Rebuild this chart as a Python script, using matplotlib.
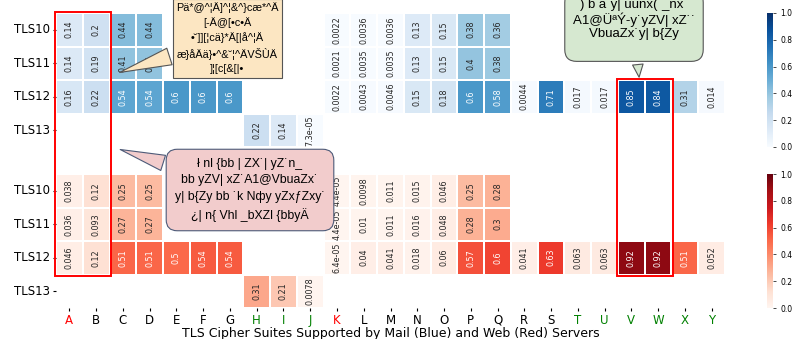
import numpy as np
import seaborn as sns
import matplotlib
matplotlib.use('Agg')
from matplotlib import pyplot as plt
from matplotlib.patches import Rectangle
from matplotlib.text import Annotation
from matplotlib import font_manager

nan = np.nan

suites = list('ABCDEFGHIJKLMNOPQRSTUVWXY')
versions = ['TLS10', 'TLS11', 'TLS12', 'TLS13']

# share of mail servers (blue)
mail_tls10 = [.14, .2, .44, .44, nan, nan, nan, nan, nan, nan, .0022, .0036, .0036, .13, .15, .38, .36,
              nan, nan, nan, nan, nan, nan, nan, nan]
mail_tls11 = [.14, .19, .41, .41, nan, nan, nan, nan, nan, nan, .0021, .0035, .0035, .13, .15, .4, .38,
              nan, nan, nan, nan, nan, nan, nan, nan]
mail_tls12 = [.16, .22, .54, .54, .6, .6, .6, nan, nan, nan, .0022, .0043, .0046, .15, .18, .6, .58,
              .0044, .71, .017, .017, .85, .84, .31, .014]
mail_tls13 = [nan, nan, nan, nan, nan, nan, nan, .22, .14, 7.3e-05, nan, nan, nan, nan, nan, nan, nan,
              nan, nan, nan, nan, nan, nan, nan, nan]

# share of web servers (red)
web_tls10 = [.038, .12, .25, .25, nan, nan, nan, nan, nan, nan, 4.4e-05, .0098, .011, .015, .046, .25, .28,
             nan, nan, nan, nan, nan, nan, nan, nan]
web_tls11 = [.036, .093, .27, .27, nan, nan, nan, nan, nan, nan, 4.4e-05, .01, .011, .016, .048, .28, .3,
             nan, nan, nan, nan, nan, nan, nan, nan]
web_tls12 = [.046, .12, .51, .51, .5, .54, .54, nan, nan, nan, 6.4e-05, .04, .041, .018, .06, .57, .6,
             .041, .63, .063, .063, .92, .92, .51, .052]
web_tls13 = [nan, nan, nan, nan, nan, nan, nan, .31, .21, .0078, nan, nan, nan, nan, nan, nan, nan,
             nan, nan, nan, nan, nan, nan, nan, nan]

red_labels = ['A', 'K']
green_labels = ['H', 'I', 'J', 'T', 'U', 'V', 'W', 'X', 'Y']

W, H = 799, 339


def px_box(x0, y0, x1, y1):
    # pixel box (y from top) -> figure fraction [left, bottom, width, height]
    return [x0 / W, (H - y1) / H, (x1 - x0) / W, (y1 - y0) / H]


def fig_xy(x, y):
    return (x / W, 1 - y / H)


fig = plt.figure(figsize=(7.99, 3.39), dpi=100)
ax_top = fig.add_axes(px_box(56, 13, 725, 147))
ax_bot = fig.add_axes(px_box(56, 174, 725, 308))
cax_top = fig.add_axes(px_box(767, 13, 773, 147))
cax_bot = fig.add_axes(px_box(767, 174, 773, 308))

mail = np.array([mail_tls10, mail_tls11, mail_tls12, mail_tls13])
web = np.array([web_tls10, web_tls11, web_tls12, web_tls13])

kw = dict(vmin=0, vmax=1, annot=True, fmt='.2g', linewidths=0.3, linecolor='white',
          annot_kws={'rotation': 90, 'fontsize': 5.8})
sns.heatmap(mail, ax=ax_top, cbar_ax=cax_top, cmap='Blues', xticklabels=suites, yticklabels=versions, **kw)
sns.heatmap(web, ax=ax_bot, cbar_ax=cax_bot, cmap='Reds', xticklabels=suites, yticklabels=versions, **kw)

ax_top.set_xticks([])
for ax in (ax_top, ax_bot):
    ax.tick_params(axis='y', labelsize=8.5, rotation=0, length=2.5, pad=2)
ax_bot.tick_params(axis='x', labelsize=8.5, rotation=0, length=2.5, pad=1.5)
for lab in ax_bot.get_xticklabels():
    if lab.get_text() in red_labels:
        lab.set_color('red')
    elif lab.get_text() in green_labels:
        lab.set_color('green')
ax_bot.set_xlabel('TLS Cipher Suites Supported by Mail (Blue) and Web (Red) Servers', fontsize=9, labelpad=0)

for cax in (cax_top, cax_bot):
    cax.set_yticks([0, .2, .4, .6, .8, 1.0])
    cax.tick_params(labelsize=5.5, length=2, width=0.5)

# red frames across both heatmaps
inv = fig.transFigure.inverted()


def frame(c0, c1, r_top):
    x0, y0 = inv.transform(ax_top.transData.transform((c0, r_top)))
    x1, y1 = inv.transform(ax_bot.transData.transform((c1, 3)))
    fig.patches.append(Rectangle((x0 - 0.001, y1 - 0.004), x1 - x0 + 0.003, y0 - y1 + 0.006,
                                 transform=fig.transFigure, fill=False, ec='red', lw=1.4, zorder=10))


frame(0, 2, 0)
frame(21, 23, 2)

installed = {f.name for f in font_manager.fontManager.ttflist}
narrow = [f for f in ['Liberation Sans Narrow', 'Liberation Sans', 'DejaVu Sans'] if f in installed]


def callout(text, tip, center, fc, ec, size, boxstyle, tail, spacing):
    ann = Annotation(text, xy=tip, xycoords=ax_top.transData, xytext=fig_xy(*center),
                     textcoords='figure fraction', ha='center', va='center', fontsize=size,
                     family=narrow, linespacing=spacing,
                     bbox=dict(boxstyle=boxstyle, fc=fc, ec=ec, lw=0.8),
                     arrowprops=dict(arrowstyle='wedge,tail_width=%g' % tail, fc=fc, ec=ec, lw=0.8),
                     annotation_clip=False)
    ann.set_zorder(20)
    fig.add_artist(ann)


callout('Pä*@^¦Ä]^¦&^}cæ*^Ä\n[-Ä@[•c•Ä\n•˘]][¦cä}*Ä[|å^¦Ä\næ}åÄä}•^&˘¦^ÄVŠÙÄ\n]¦[c[&[|•',
        (2.28, 1.8), (227, 38), '#fce6c2', '#555555', 7.8, 'square,pad=0.3', 1.6, 1.5)

callout('ł nl {bb | ZX˙| yZ˙n_\nbb yZV| xZ˙A1@VbuaZx˙\ny| b{Zy bb ˙k Nфy yZx\u0192Zxy˙\n¿| n{ Vhl _bXZl {bbyÄ',
        (2.3, 4.05), (250, 190), '#f2cccc', '#4d5a78', 8.8, 'round,pad=0.7,rounding_size=0.9', 1.3, 1.5)

callout(') b a˙y| uunx(˙_nx˙\nA1@ÜªÝ-y˙yZV| xZ˙˙\nVbuaZx˙y| b{Zy\n',
        (21.8, 2.0), (634, 26), '#d6e8d0', '#555555', 9.5, 'round,pad=0.6,rounding_size=0.9', 0.8, 1.15)

fig.savefig('out.png', dpi=100)
